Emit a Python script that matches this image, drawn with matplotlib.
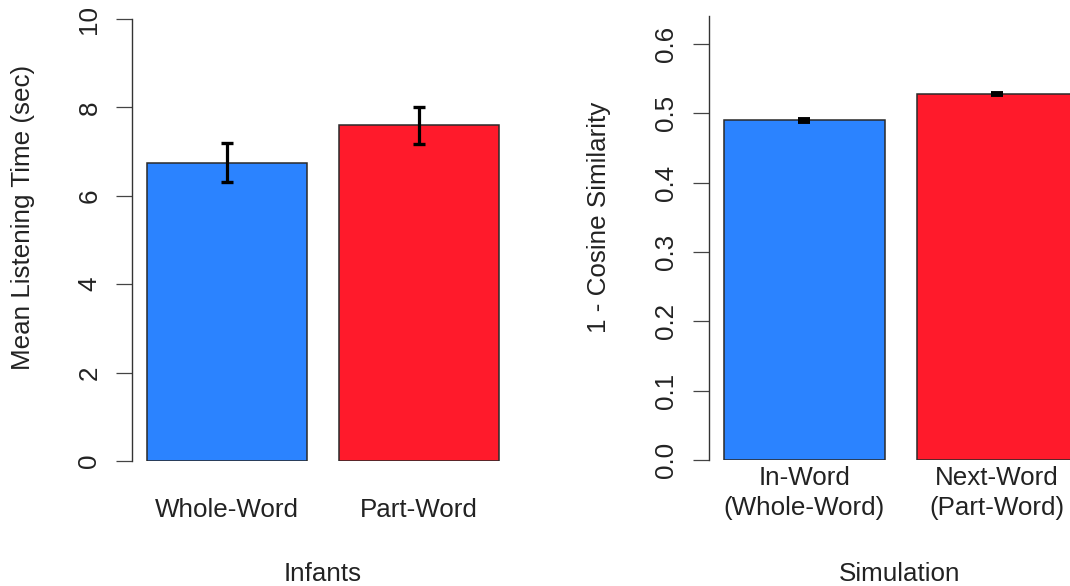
import matplotlib
matplotlib.use("Agg")
import matplotlib.pyplot as plt

# ---- data ----
infant_labels = ["Whole-Word", "Part-Word"]
infant_means = [6.75, 7.60]
infant_errs = [0.44, 0.42]
infant_yticks = [0, 2, 4, 6, 8, 10]
infant_ylabel = "Mean Listening Time (sec)"
infant_xlabel = "Infants"

sim_labels = ["In-Word\n(Whole-Word)", "Next-Word\n(Part-Word)"]
sim_means = [0.490, 0.528]
sim_errs = [0.002, 0.002]
sim_yticks = [0.0, 0.1, 0.2, 0.3, 0.4, 0.5, 0.6]
sim_yticklabels = ["0.0", "0.1", "0.2", "0.3", "0.4", "0.5", "0.6"]
sim_ylabel = "1 - Cosine Similarity"
sim_xlabel = "Simulation"

bar_colors = ["#2B83FF", "#FF1A2B"]

# ---- style ----
plt.rcParams["font.family"] = ["Liberation Sans", "DejaVu Sans"]
FS = 18.7
W, H = 1070, 586
fig = plt.figure(figsize=(W / 100, H / 100), dpi=100)


def fig_rect(x0, x1, ytop, ybot):
    return [x0 / W, 1 - ybot / H, (x1 - x0) / W, (ybot - ytop) / H]


def style_axes(ax, ymax_spine):
    for s in ["top", "right", "bottom"]:
        ax.spines[s].set_visible(False)
    ax.spines["left"].set_color("#333333")
    ax.spines["left"].set_linewidth(1.0)
    ax.spines["left"].set_bounds(0, ymax_spine)
    ax.tick_params(axis="y", direction="out", length=11.5, width=0.9,
                   color="#444444", labelsize=FS, pad=10.5, labelrotation=90,
                   labelcolor="#222222")
    for lab in ax.get_yticklabels():
        lab.set_va("center")
        lab.set_ha("right")
    ax.tick_params(axis="x", length=0, labelsize=FS, labelcolor="#222222")


bar_pos = [0.7, 1.9]

# ---- left panel ----
axL = fig.add_axes(fig_rect(132, 515, 19, 461))
axL.bar(bar_pos, infant_means, width=1.0, color=bar_colors,
        edgecolor="#2a2a2a", linewidth=1.1, zorder=2)
axL.errorbar(bar_pos, infant_means, yerr=infant_errs, fmt="none",
             ecolor="black", elinewidth=2.3, capsize=4, capthick=2.4, zorder=3)
axL.set_xlim(0.106, 2.5)
axL.set_ylim(0, 10)
axL.set_yticks(infant_yticks)
axL.set_yticklabels([str(t) for t in infant_yticks])
axL.set_xticks(bar_pos)
axL.set_xticklabels(infant_labels)
style_axes(axL, 10)
axL.tick_params(axis="x", pad=26.5)
axL.set_xlabel(infant_xlabel, fontsize=FS, color="#222222")
axL.xaxis.set_label_coords((323 - 132) / (515 - 132), (461 - 562) / (461 - 19))
fig.text(23 / W, 1 - 217.5 / H, infant_ylabel, rotation=90, ha="center",
         va="center", fontsize=FS, color="#222222")

# ---- right panel ----
axR = fig.add_axes(fig_rect(709, 1070, 16.3, 460))
axR.bar(bar_pos, sim_means, width=1.0, color=bar_colors,
        edgecolor="#2a2a2a", linewidth=1.1, zorder=2)
axR.errorbar(bar_pos, sim_means, yerr=sim_errs, fmt="none",
             ecolor="black", elinewidth=2.3, capsize=4, capthick=2.8, zorder=3)
axR.set_xlim(0.106, 2.356)
axR.set_ylim(0, 0.64)
axR.set_yticks(sim_yticks)
axR.set_yticklabels(sim_yticklabels)
axR.set_xticks(bar_pos)
axR.set_xticklabels(sim_labels, linespacing=1.3)
style_axes(axR, 0.64)
axR.tick_params(axis="x", pad=4.5)
axR.set_xlabel(sim_xlabel, fontsize=FS, color="#222222")
axR.xaxis.set_label_coords((900 - 709) / (1070 - 709), (460 - 562) / (460 - 16.3))
fig.text(599 / W, 1 - 217.5 / H, sim_ylabel, rotation=90, ha="center",
         va="center", fontsize=FS, color="#222222")

fig.savefig("out.png", dpi=100)
